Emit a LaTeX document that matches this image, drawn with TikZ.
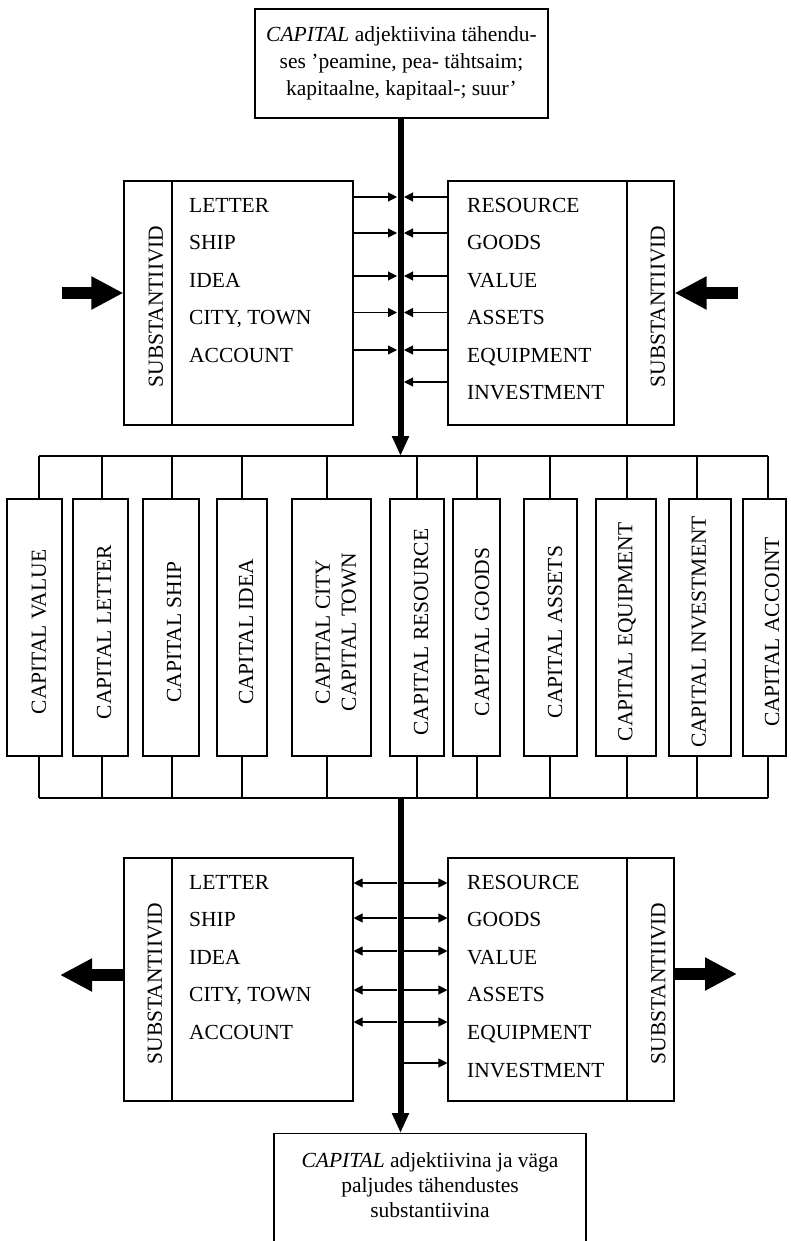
\documentclass[tikz,border=0pt]{standalone}
\usepackage{fontspec}
\setmainfont{Liberation Serif}
\usetikzlibrary{arrows.meta}
\begin{document}
\begin{tikzpicture}[x=1pt,y=-1pt,
  ln/.style={line width=1.1pt},
  bx/.style={draw, line width=1.1pt, inner sep=0pt},
  arr/.style={line width=1.1pt, -{Triangle[length=9pt,width=9pt]}},
  mainline/.style={line width=6pt, -{Triangle[length=20pt,width=16pt]}},
  bigarrow/.style={line width=12pt, -{Triangle[length=32pt,width=31pt]}},
  rowtext/.style={anchor=west, inner sep=0pt, text height=14.1pt, text depth=0pt},
  vtext/.style={rotate=90, inner sep=0pt, align=center},
  font=\fontsize{21.5}{26}\selectfont]
\clip (0,0) rectangle (791,1241);

% top box
\node[bx, minimum width=293pt, minimum height=109pt, align=center,
      font=\fontsize{21.5}{27}\selectfont] (topbox) at (401.5,63.5)
  {\textit{CAPITAL} adjektiivina tähendu-\\ses ’peamine, pea- tähtsaim;\\kapitaalne, kapitaal-; suur’};

% upper side boxes
\node[bx, minimum width=48pt, minimum height=244pt] (ulcol) at (148,303) {};
\node[bx, minimum width=181pt, minimum height=244pt] (ulbox) at (262.5,303) {};
\node[bx, minimum width=179pt, minimum height=244pt] (urbox) at (537.5,303) {};
\node[bx, minimum width=47pt, minimum height=244pt] (urcol) at (650.5,303) {};
\node[vtext] (ulsub) at (156,306.5) {SUBSTANTIIVID};
\node[vtext] (ursub) at (658,306.5) {SUBSTANTIIVID};
\node[rowtext] (ul1) at (189,205) {LETTER};
\node[rowtext] (ul2) at (189,242.5) {SHIP};
\node[rowtext] (ul3) at (189,280.5) {IDEA};
\node[rowtext] (ul4) at (189,317.5) {CITY, TOWN};
\node[rowtext] (ul5) at (189,355) {ACCOUNT};
\node[rowtext] (ur1) at (467,205) {RESOURCE};
\node[rowtext] (ur2) at (467,242.5) {GOODS};
\node[rowtext] (ur3) at (467,280.5) {VALUE};
\node[rowtext] (ur4) at (467,317.5) {ASSETS};
\node[rowtext] (ur5) at (467,355) {EQUIPMENT};
\node[rowtext] (ur6) at (467,392) {INVESTMENT};

% lower side boxes
\node[bx, minimum width=48pt, minimum height=243pt] (llcol) at (148,979.5) {};
\node[bx, minimum width=181pt, minimum height=243pt] (llbox) at (262.5,979.5) {};
\node[bx, minimum width=179pt, minimum height=243pt] (lrbox) at (537.5,979.5) {};
\node[bx, minimum width=47pt, minimum height=243pt] (lrcol) at (650.5,979.5) {};
\node[vtext] (llsub) at (155,983.5) {SUBSTANTIIVID};
\node[vtext] (lrsub) at (658.5,983.5) {SUBSTANTIIVID};
\node[rowtext] (ll1) at (189,882.5) {LETTER};
\node[rowtext] (ll2) at (189,919.5) {SHIP};
\node[rowtext] (ll3) at (189,957) {IDEA};
\node[rowtext] (ll4) at (189,994) {CITY, TOWN};
\node[rowtext] (ll5) at (189,1032) {ACCOUNT};
\node[rowtext] (lr1) at (467,882.5) {RESOURCE};
\node[rowtext] (lr2) at (467,919.5) {GOODS};
\node[rowtext] (lr3) at (467,957) {VALUE};
\node[rowtext] (lr4) at (467,994) {ASSETS};
\node[rowtext] (lr5) at (467,1032) {EQUIPMENT};
\node[rowtext] (lr6) at (467,1070) {INVESTMENT};

% middle row
\foreach \i/\cx/\w/\dx/\tx/\s in {
  1/34.5/55/39/39/{CAPITAL VALUE},
  2/100.5/55/102/104/{CAPITAL LETTER},
  3/171/56/172/174/{CAPITAL SHIP},
  4/242/50/242/246/{CAPITAL IDEA},
  5/331.5/79/327/336/{CAPITAL CITY\\CAPITAL TOWN},
  6/417/54/417/421/{CAPITAL RESOURCE},
  7/476.5/47/477/482/{CAPITAL GOODS},
  8/550.5/53/550/555/{CAPITAL ASSETS},
  9/626/60/627/627/{CAPITAL EQUIPMENT},
  10/700/62/697/699/{CAPITAL INVESTMENT},
  11/764.5/43/768/772/{CAPITAL ACCOINT}} {
  \node[bx, minimum width=\w pt, minimum height=257pt] (c\i) at (\cx,627.5) {};
  \node[vtext] (ct\i) at (\tx,632) {\s};
  \coordinate (t\i) at (\dx,456);
  \coordinate (u\i) at (\dx,798);
  \draw[ln] (t\i) -- (t\i |- c\i.north);
  \draw[ln] (c\i.south -| u\i) -- (u\i);
}
\draw[ln] (t1) -- (t11);
\draw[ln] (u1) -- (u11);

% bottom box
\node[bx, minimum width=312pt, minimum height=150pt, anchor=north] (botbox) at (430,1133) {};
\node[inner sep=0pt, align=center, anchor=north,
      font=\fontsize{21.5}{25}\selectfont] (bottext) at (430,1152.5)
  {\textit{CAPITAL} adjektiivina ja väga\\paljudes tähendustes\\substantiivina};

% main line edges
\coordinate (mx) at (400.5,0);
\coordinate (mL) at (397,0);
\coordinate (mR) at (404,0);

% upper thin arrows
\foreach \y in {197,233,276,312.5,350}
  \draw[arr] (ulbox.east |- 0,\y) -- (mL |- 0,\y);
\foreach \y in {197,233,276,312.5,350,382}
  \draw[arr] (urbox.west |- 0,\y) -- (mR |- 0,\y);

% lower thin arrows
\foreach \y in {883,918,951,990,1022}
  \draw[arr] (mL |- 0,\y) -- (llbox.east |- 0,\y);
\foreach \y in {883,918,951,990,1022,1063}
  \draw[arr] (mR |- 0,\y) -- (lrbox.west |- 0,\y);

% main thick line
\draw[mainline] (topbox.south -| mx) -- (mx |- t1);
\draw[mainline] (mx |- u1) -- (mx |- botbox.north);

% big arrows
\coordinate (bl1) at (62,293);
\coordinate (br1) at (738,293);
\coordinate (bl2) at (60,975);
\coordinate (br2) at (737,974);
\draw[bigarrow] (bl1) -- (ulcol.west |- bl1);
\draw[bigarrow] (br1) -- (urcol.east |- br1);
\draw[bigarrow] (llcol.west |- bl2) -- (bl2);
\draw[bigarrow] (lrcol.east |- br2) -- (br2);
\end{tikzpicture}
\end{document}
